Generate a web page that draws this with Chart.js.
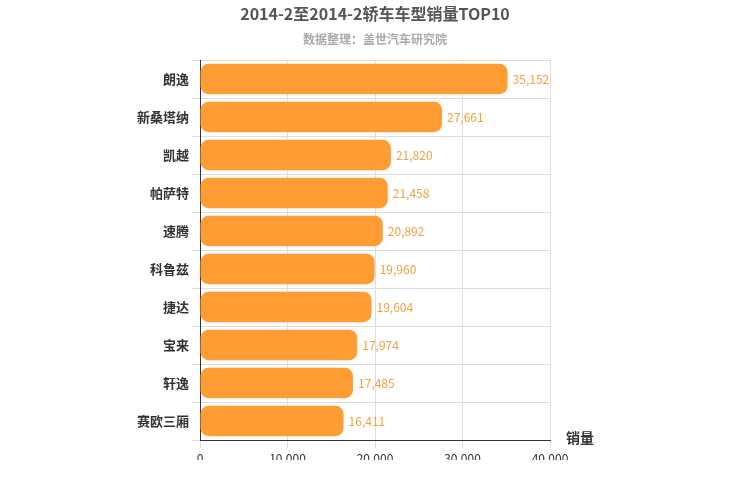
<!DOCTYPE html>
<html><head><meta charset="utf-8">
<script src="https://cdn.jsdelivr.net/npm/chart.js@4"></script>
<style>body{margin:0}#w{width:750px;height:500px}</style></head>
<body><div id="w"><canvas id="c"></canvas></div>
<script>
const categories = ["朗逸","新桑塔纳","凯越","帕萨特","速腾","科鲁兹","捷达","宝来","轩逸","赛欧三厢"];
const sales = [35152,27661,21820,21458,20892,19960,19604,17974,17485,16411];
const xTicks = [0,10000,20000,30000,40000];
const F = "'Noto Sans CJK SC', 'DejaVu Sans', sans-serif";
const deco = {
  id:'deco',
  afterDatasetsDraw(ch){
    const ctx=ch.ctx; ctx.save();
    ctx.textAlign='center'; ctx.textBaseline='middle';
    ctx.fillStyle='#555'; ctx.font='bold 16px '+F;
    ctx.fillText('2014-2至2014-2轿车车型销量TOP10',375,14);
    ctx.fillStyle='#aaa'; ctx.font='bold 12px '+F;
    ctx.fillText('数据整理：盖世汽车研究院',375,39);
    ctx.fillStyle='#333'; ctx.font='bold 14px '+F;
    ctx.fillText('销量',580,438);
    ctx.textAlign='left'; ctx.font='12px '+F; ctx.fillStyle='#f0a040';
    ch.getDatasetMeta(0).data.forEach((b,i)=>{
      ctx.fillText(sales[i].toLocaleString('en-US'), b.x+5, b.y);
    });
    ctx.restore();
  }
};
new Chart(document.getElementById('c'),{
  type:'bar',
  data:{labels:categories,datasets:[{data:sales,backgroundColor:'#ff9c33',borderRadius:8,borderSkipped:false,categoryPercentage:0.8,barPercentage:1}]},
  options:{
    indexAxis:'y',responsive:true,maintainAspectRatio:false,animation:false,
    layout:{padding:{left:0,right:200,top:60,bottom:40}},
    plugins:{legend:{display:false},tooltip:{enabled:false}},
    scales:{
      x:{min:0,max:40000,afterBuildTicks(a){a.ticks=xTicks.map(v=>({value:v}));},
        afterFit(a){a.height=20;},
        grid:{color:'#ddd'},border:{color:'#333'},
        ticks:{color:'#333',font:{size:12,family:F},callback:v=>v.toLocaleString('en-US')}},
      y:{afterFit(a){a.width=200;},grid:{color:'#ddd'},border:{color:'#333'},
        ticks:{color:'#333',font:{size:13,weight:'bold',family:F}}}
    }
  },
  plugins:[deco]
});
</script></body></html>
